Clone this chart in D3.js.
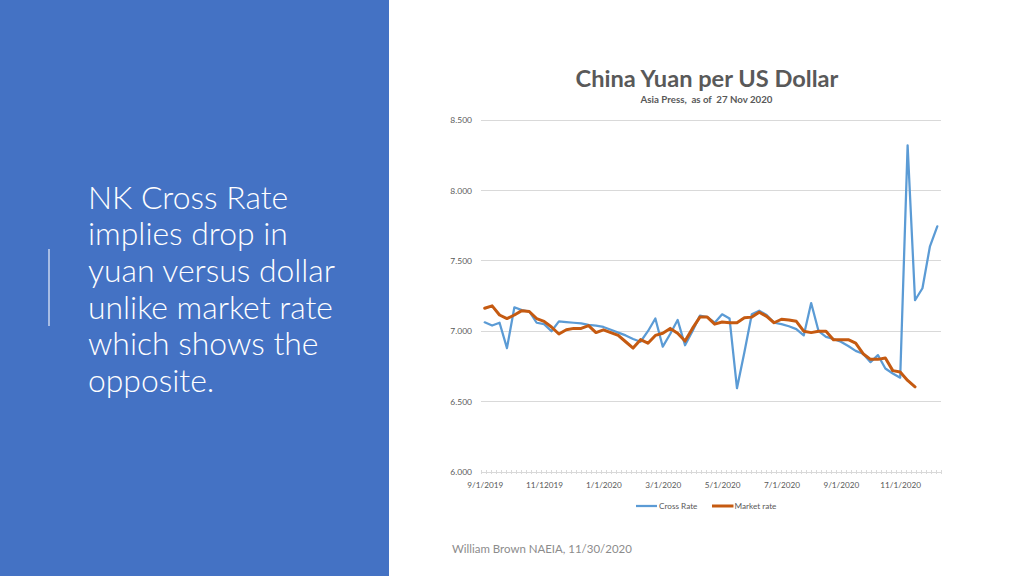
<!DOCTYPE html>
<html><head><meta charset="utf-8">
<script src="https://cdn.jsdelivr.net/npm/d3@7"></script>
<style>html,body{margin:0;padding:0;background:#fff;overflow:hidden}svg{display:block}</style>
</head><body>
<svg id="c" width="1024" height="576"></svg>
<script>
// ---------------- data ----------------
const chartTitle = "China Yuan per US Dollar";
const chartSubtitle = "Asia Press,  as of  27 Nov 2020";
const seriesNames = ["Cross Rate", "Market rate"];
const tickLabels = ["9/1/2019","11/12019","1/1/2020","3/1/2020","5/1/2020","7/1/2020","9/1/2020","11/1/2020"];
const labelEvery = 8; // one label every 8 weekly categories
const yTicks = [6.0, 6.5, 7.0, 7.5, 8.0, 8.5];
const crossRate = [
  7.063, 7.04, 7.06, 6.88, 7.17, 7.15, 7.14, 7.06, 7.05, 7.00,
  7.07, 7.065, 7.06, 7.055, 7.045, 7.04, 7.03, 7.01, 6.99, 6.97,
  6.945, 6.925, 7.00, 7.09, 6.89, 6.98, 7.08, 6.90, 7.00, 7.11,
  7.10, 7.06, 7.12, 7.09, 6.595, 6.85, 7.12, 7.146, 7.115, 7.06,
  7.05, 7.035, 7.015, 6.97, 7.20, 7.00, 6.96, 6.945, 6.925, 6.895,
  6.86, 6.84, 6.78, 6.83, 6.735, 6.70, 6.67, 8.32, 7.22, 7.305,
  7.60, 7.745
];
const marketRate = [
  7.163, 7.18, 7.115, 7.09, 7.115, 7.146, 7.14, 7.09, 7.07, 7.03,
  6.98, 7.01, 7.02, 7.02, 7.04, 6.99, 7.01, 6.99, 6.97, 6.925,
  6.88, 6.94, 6.915, 6.97, 6.985, 7.02, 6.985, 6.93, 7.02, 7.10,
  7.10, 7.05, 7.065, 7.06, 7.06, 7.095, 7.10, 7.135, 7.105, 7.06,
  7.085, 7.08, 7.07, 7.00, 6.99, 7.00, 7.00, 6.94, 6.94, 6.94,
  6.915, 6.84, 6.80, 6.80, 6.81, 6.72, 6.71, 6.65, 6.605, null,
  null, null
];
const bodyLines = ["NK Cross Rate","implies drop in","yuan versus dollar","unlike market rate","which shows the","opposite."];
const footer = "William Brown NAEIA, 11/30/2020";

// ---------------- drawing ----------------
const svg = d3.select("#c");
const FONT = "Lato, 'Open Sans', 'Noto Sans', sans-serif";
const gray = "#595959";

function fit(sel, target) {
  const w = sel.node().getComputedTextLength();
  const fs = parseFloat(sel.attr("font-size"));
  if (w > 0) sel.attr("font-size", fs * target / w);
  return parseFloat(sel.attr("font-size"));
}
function fitSize(g, str, target, base, weight) {
  const p = g.append("text").attr("font-family", FONT).attr("font-weight", weight || 400)
    .attr("font-size", base).text(str);
  const s = fit(p, target);
  p.remove();
  return s;
}

// left panel
svg.append("rect").attr("x", 0).attr("y", 0).attr("width", 389).attr("height", 576).attr("fill", "#4472C4");
svg.append("line").attr("x1", 49).attr("x2", 49).attr("y1", 249).attr("y2", 326)
  .attr("stroke", "#c9d6ef").attr("stroke-width", 1.5);

const body = svg.append("g").attr("font-family", FONT).attr("font-weight", 300).attr("fill", "#fff");
const bodySize = fitSize(body, bodyLines[3], 245, 30, 300);
body.selectAll("text").data(bodyLines).join("text")
  .attr("x", 88).attr("y", (d, i) => 208.5 + i * 36.7)
  .attr("font-size", bodySize).text(d => d);

// chart
const x = d3.scalePoint().domain(d3.range(crossRate.length)).range([481, 941]).padding(0.5);
const y = d3.scaleLinear().domain([6, 8.5]).range([472, 120]);

const t = svg.append("text").attr("x", 707).attr("y", 87).attr("text-anchor", "middle")
  .attr("font-family", FONT).attr("font-weight", 700).attr("font-size", 22).attr("fill", gray).text(chartTitle);
fit(t, 263);
const st = svg.append("text").attr("x", 706.5).attr("y", 102.5).attr("text-anchor", "middle")
  .attr("font-family", FONT).attr("font-weight", 700).attr("font-size", 9).attr("fill", gray)
  .style("white-space", "pre").attr("xml:space", "preserve").text(chartSubtitle);
fit(st, 132);

// gridlines
svg.append("g").selectAll("line").data(yTicks).join("line")
  .attr("x1", 481).attr("x2", 941).attr("y1", d => y(d)).attr("y2", d => y(d))
  .attr("stroke", "#d9d9d9").attr("stroke-width", 1).attr("shape-rendering", "crispEdges");

const tickSize = fitSize(svg, "8.500", 21.7, 9);
const xLabSize = fitSize(svg, "9/1/2020", 36, 9);

// y axis labels
const yAxis = svg.append("g").attr("transform", "translate(481,0)")
  .call(d3.axisLeft(y).tickValues(yTicks).tickFormat(d3.format(".3f")).tickSize(0).tickPadding(9));
yAxis.select(".domain").remove();
yAxis.selectAll("text").attr("font-family", FONT).attr("font-size", tickSize).attr("fill", gray);

// x axis minor ticks
const nTicks = 92;
const tickScale = d3.scaleLinear().domain([0, nTicks]).range([481, 941]);
svg.append("g").selectAll("line").data(d3.range(nTicks + 1)).join("line")
  .attr("x1", d => tickScale(d)).attr("x2", d => tickScale(d)).attr("y1", 469.5).attr("y2", 474)
  .attr("stroke", "#d9d9d9").attr("stroke-width", 1).attr("shape-rendering", "crispEdges");

// x axis labels
const xAxis = svg.append("g").attr("transform", "translate(0,472)")
  .call(d3.axisBottom(x).tickValues(tickLabels.map((d, i) => i * labelEvery))
    .tickFormat((d) => tickLabels[d / labelEvery]).tickSize(0).tickPadding(10));
xAxis.select(".domain").remove();
xAxis.selectAll("text").attr("font-family", FONT).attr("font-size", xLabSize).attr("fill", gray);

// lines
const mk = (arr) => arr.map((v, i) => ({v, i}));
const lineGen = d3.line().defined(d => d.v != null).x(d => x(d.i)).y(d => y(d.v));
svg.append("path").datum(mk(crossRate)).attr("d", lineGen).attr("fill", "none")
  .attr("stroke", "#5B9BD5").attr("stroke-width", 2.25).attr("stroke-linejoin", "round").attr("stroke-linecap", "round");
svg.append("path").datum(mk(marketRate)).attr("d", lineGen).attr("fill", "none")
  .attr("stroke", "#C55A11").attr("stroke-width", 3).attr("stroke-linejoin", "round").attr("stroke-linecap", "round");

// legend
const lg = svg.append("g").attr("font-family", FONT).attr("font-size", xLabSize).attr("fill", gray);
const legendItems = [
  {name: seriesNames[0], color: "#5B9BD5", w: 2.25, x0: 636, x1: 657, tx: 659},
  {name: seriesNames[1], color: "#C55A11", w: 3, x0: 712, x1: 733.5, tx: 734.5}
];
legendItems.forEach(it => {
  lg.append("line").attr("x1", it.x0).attr("x2", it.x1).attr("y1", 506).attr("y2", 506)
    .attr("stroke", it.color).attr("stroke-width", it.w);
  lg.append("text").attr("x", it.tx).attr("y", 509).text(it.name);
});

// footer
const ft = svg.append("text").attr("x", 452).attr("y", 553).attr("font-family", FONT)
  .attr("font-size", 12).attr("fill", "#8c8c8c").text(footer);
fit(ft, 180);
</script>
</body></html>
